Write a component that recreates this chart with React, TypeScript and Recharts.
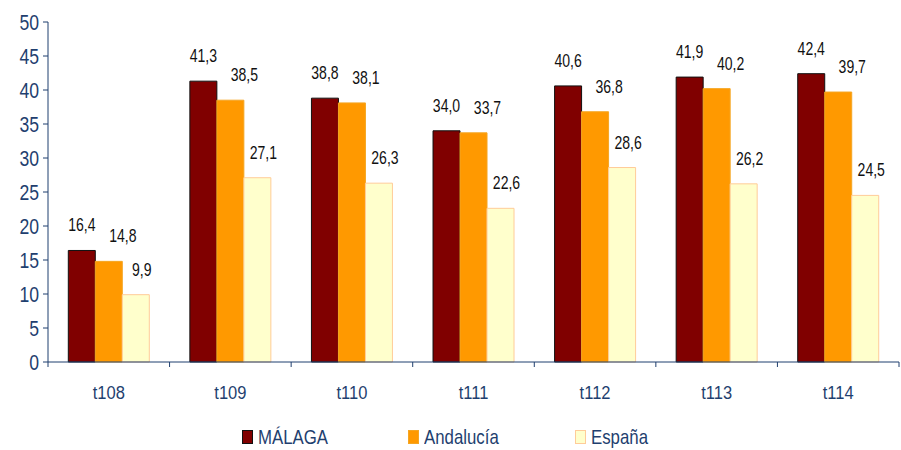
import React from 'react';
import { BarChart, Bar, XAxis, YAxis, Legend, LabelList } from 'recharts';

// Values
const periods = ['t108', 't109', 't110', 't111', 't112', 't113', 't114'];
const malaga = [16.4, 41.3, 38.8, 34.0, 40.6, 41.9, 42.4];
const andalucia = [14.8, 38.5, 38.1, 33.7, 36.8, 40.2, 39.7];
const espana = [9.9, 27.1, 26.3, 22.6, 28.6, 26.2, 24.5];
const yTicks = [0, 5, 10, 15, 20, 25, 30, 35, 40, 45, 50];

const data = periods.map((p, i) => ({
  period: p,
  malaga: malaga[i],
  andalucia: andalucia[i],
  espana: espana[i],
}));

const W = 901;
const H = 450;
const MARGIN = { top: 22, right: 2, bottom: 0, left: 0 };
const Y_AXIS_W = 48;
const X_AXIS_H = 48;
const LEGEND_H = 40;
const PLOT_BOTTOM = H - LEGEND_H - X_AXIS_H;
const BAND = (W - Y_AXIS_W - MARGIN.right) / periods.length;

const NAVY = '#1f3f6f';
const FONT = "'Liberation Sans', Arial, sans-serif";

const series = [
  { key: 'malaga', name: 'MÁLAGA', fill: '#800000', stroke: '#111111', dx: 0 },
  { key: 'andalucia', name: 'Andalucía', fill: '#ff9900', stroke: '#f5a623', dx: 14 },
  { key: 'espana', name: 'España', fill: '#ffffcc', stroke: '#ffcc99', dx: 6 },
];

const fmt = (v: number) => v.toFixed(1).replace('.', ',');

// the original uses a narrow face, so squeeze text around its anchor point
const NarrowText = ({ x, y, size, fill, anchor, squeeze, children }: any) => (
  <text
    transform={`translate(${x},${y}) scale(${squeeze},1)`}
    textAnchor={anchor}
    fill={fill}
    fontSize={size}
    fontFamily={FONT}
  >
    {children}
  </text>
);

const XTick = (props: any) => {
  const { x, payload, index } = props;
  const left = x - BAND / 2;
  return (
    <g>
      <line x1={left} x2={left} y1={PLOT_BOTTOM} y2={PLOT_BOTTOM + 5} stroke={NAVY} />
      {index === periods.length - 1 && (
        <line x1={x + BAND / 2} x2={x + BAND / 2} y1={PLOT_BOTTOM} y2={PLOT_BOTTOM + 5} stroke={NAVY} />
      )}
      <NarrowText x={x} y={PLOT_BOTTOM + 37} size={19} squeeze={0.87} fill={NAVY} anchor="middle">
        {payload.value}
      </NarrowText>
    </g>
  );
};

const YTick = (props: any) => {
  const { x, y, payload } = props;
  return (
    <NarrowText x={x} y={y + 8} size={22} squeeze={0.8} fill={NAVY} anchor="end">
      {payload.value}
    </NarrowText>
  );
};

const makeLabel = (dx: number) => (props: any) => {
  const { x, y, width, value } = props;
  return (
    <NarrowText x={x + width / 2 + dx} y={y - 19} size={18} squeeze={0.78} fill="#111111" anchor="middle">
      {fmt(value)}
    </NarrowText>
  );
};

const LegendBox = () => {
  const lefts = [242, 408, 575];
  return (
    <div style={{ position: 'relative', width: W, height: LEGEND_H }}>
      {series.map((s, i) => (
        <div
          key={s.key}
          style={{ position: 'absolute', left: lefts[i], top: 15, display: 'flex', alignItems: 'center' }}
        >
          <span
            style={{
              display: 'inline-block',
              width: 9,
              height: 12,
              background: s.fill,
              border: `1px solid ${s.stroke}`,
              marginRight: 5,
            }}
          />
          <span
            style={{
              color: NAVY,
              fontSize: 21,
              fontFamily: FONT,
              lineHeight: '24px',
              display: 'inline-block',
              transform: 'scaleX(0.8)',
              transformOrigin: 'left center',
              whiteSpace: 'nowrap',
            }}
          >
            {s.name}
          </span>
        </div>
      ))}
    </div>
  );
};

const App: React.FC = () => {
  return (
    <div style={{ position: 'absolute', left: 0, top: 0, background: '#fff' }}>
      <BarChart width={W} height={H} data={data} margin={MARGIN} barCategoryGap="16.7%" barGap={0}>
        <XAxis
          dataKey="period"
          height={X_AXIS_H}
          axisLine={{ stroke: NAVY }}
          tickLine={false}
          tick={<XTick />}
          interval={0}
        />
        <YAxis
          width={Y_AXIS_W}
          domain={[0, 50]}
          ticks={yTicks}
          interval={0}
          axisLine={{ stroke: NAVY }}
          tickLine={{ stroke: NAVY }}
          tickSize={5}
          tickMargin={4}
          tick={<YTick />}
        />
        <Legend verticalAlign="bottom" height={LEGEND_H} content={<LegendBox />} />
        {series.map((s) => (
          <Bar
            key={s.key}
            dataKey={s.key}
            name={s.name}
            fill={s.fill}
            stroke={s.stroke}
            strokeWidth={1}
            isAnimationActive={false}
          >
            <LabelList dataKey={s.key} content={makeLabel(s.dx)} />
          </Bar>
        ))}
      </BarChart>
    </div>
  );
};

export default App;
